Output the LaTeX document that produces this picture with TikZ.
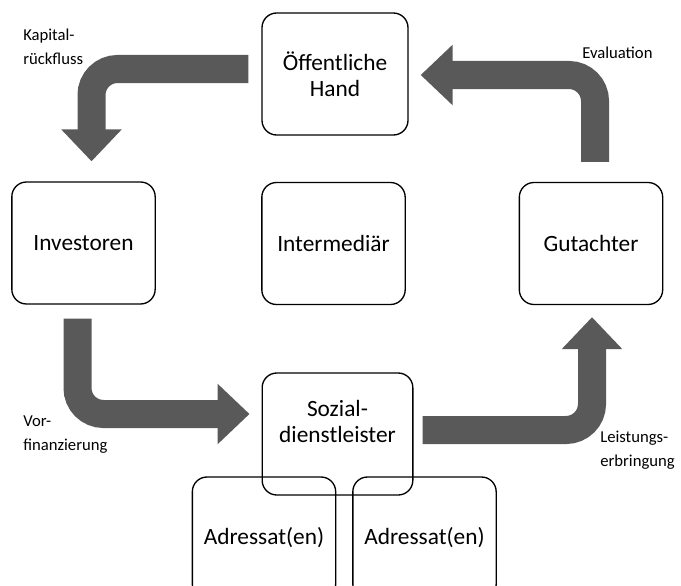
\documentclass[tikz,border=0pt]{standalone}
\usepackage{fontspec}
\setmainfont{Carlito}
\usepackage{tikz}
\usetikzlibrary{arrows.meta}
\usetikzlibrary{calc}
\usetikzlibrary{positioning}
\definecolor{bandgray}{HTML}{595959}

\begin{document}
\begin{tikzpicture}[x=0.75pt,y=-0.75pt,
  every node/.style={align=center,inner sep=0pt},
  box/.style={draw,line width=1pt,rounded corners=11pt,minimum width=107.5pt,
    minimum height=91.5pt,font=\fontsize{17.5}{19.5}\selectfont},
  lbl/.style={align=left,anchor=west,font=\fontsize{12.5}{18}\selectfont},
  band/.style={draw=bandgray,line width=21pt,rounded corners=19.5pt,
    -{Triangle[length=24pt,width=44pt]}}]
  \clip (0,0) rectangle (681,585);

  \draw node[box,minimum width=109.5pt] (hand) at (335,74) {Öffentliche\\Hand};
  \draw node[box] (inv) at (83.5,243) {Investoren};
  \draw node[box] (inter) at (333.5,243.5) {Intermediär};
  \draw node[box] (gut) at (591,243.5) {Gutachter};
  \draw node[box,minimum width=113pt] (soz) at (337.5,434) {Sozial-\\dienstleister\\~};
  \draw node[box] (adr1) at (264,538) {Adressat(en)};
  \draw node[box] (adr2) at (424.5,538) {Adressat(en)};

  \draw[band] ($(hand.west)+(-13,-5)$) -| ($(inv.north)+(8,-20)$);
  \draw[band] ($(gut.north)+(4,-20)$) |- ($(hand.east)+(12,1)$);
  \draw[band] ($(inv.south)+(-6,14)$) |- ($(soz.west)+(-12,-20)$);
  \draw[band] ($(soz.east)+(9,-4)$) -| ($(gut.south)+(1,12)$);

  \draw node[lbl] (kap) at (23,47) {Kapital-\\rückfluss};
  \draw node[lbl] (eval) at (582,53) {Evaluation};
  \draw node[lbl] (vor) at (23,435) {Vor-\\finanzierung};
  \draw node[lbl] (leist) at (600,450) {Leistungs-\\erbringung};
\end{tikzpicture}
\end{document}
